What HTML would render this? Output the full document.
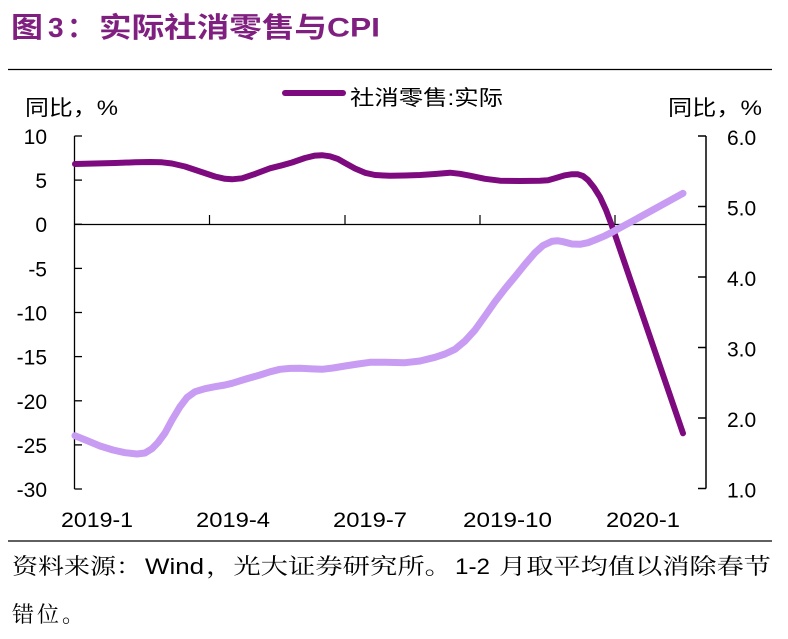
<!DOCTYPE html>
<html>
<head>
<meta charset="utf-8">
<style>
  html,body{margin:0;padding:0;background:#fff;}
  svg{display:block;}
</style>
</head>
<body>
<svg width="788" height="639" viewBox="0 0 788 639" xmlns="http://www.w3.org/2000/svg">
  <rect width="788" height="639" fill="#fff"/>

  <!-- Title -->
  <g fill="#7F1F7F" font-weight="bold">
    <text x="11" y="37" font-family="'Liberation Sans','Noto Sans CJK SC',sans-serif" font-size="28" textLength="32" lengthAdjust="spacingAndGlyphs">图</text>
    <text x="48" y="37" font-family="'Liberation Sans',sans-serif" font-size="28">3</text>
    <text x="67" y="37" font-family="'Noto Sans CJK SC',sans-serif" font-size="28">：</text>
    <text x="99" y="37" font-family="'Liberation Sans','Noto Sans CJK SC',sans-serif" font-size="28" textLength="228" lengthAdjust="spacingAndGlyphs">实际社消零售与</text>
    <text x="327" y="36.5" font-family="'Liberation Sans',sans-serif" font-size="27" textLength="53" lengthAdjust="spacingAndGlyphs">CPI</text>
  </g>

  <!-- top rule -->
  <line x1="8" y1="69.5" x2="772" y2="69.5" stroke="#000" stroke-width="1.2"/>

  <!-- legend -->
  <line x1="285" y1="93" x2="343" y2="93" stroke="#7D0A7E" stroke-width="6" stroke-linecap="round"/>
  <text x="350" y="105" font-family="'Liberation Sans','Noto Sans CJK SC',sans-serif" font-size="21" textLength="153" lengthAdjust="spacingAndGlyphs" fill="#000">社消零售:实际</text>

  <!-- axis unit labels -->
  <text x="25" y="115" font-family="'Liberation Sans','Noto Sans CJK SC',sans-serif" font-size="21" textLength="93" lengthAdjust="spacingAndGlyphs" fill="#000">同比，%</text>
  <text x="668" y="115" font-family="'Liberation Sans','Noto Sans CJK SC',sans-serif" font-size="21" textLength="94" lengthAdjust="spacingAndGlyphs" fill="#000">同比，%</text>

  <!-- left axis -->
  <g stroke="#000" stroke-width="1.3">
    <line x1="74.5" y1="136" x2="74.5" y2="489"/>
    <line x1="74.5" y1="136" x2="82" y2="136"/>
    <line x1="74.5" y1="180.1" x2="82" y2="180.1"/>
    <line x1="74.5" y1="224.25" x2="82" y2="224.25"/>
    <line x1="74.5" y1="268.4" x2="82" y2="268.4"/>
    <line x1="74.5" y1="312.5" x2="82" y2="312.5"/>
    <line x1="74.5" y1="356.6" x2="82" y2="356.6"/>
    <line x1="74.5" y1="400.8" x2="82" y2="400.8"/>
    <line x1="74.5" y1="444.9" x2="82" y2="444.9"/>
    <line x1="74.5" y1="489" x2="82" y2="489"/>
  </g>
  <g font-family="'Liberation Sans',sans-serif" font-size="21" fill="#000" text-anchor="end">
    <text x="47" y="144">10</text>
    <text x="47" y="188">5</text>
    <text x="47" y="232">0</text>
    <text x="47" y="276.5">-5</text>
    <text x="47" y="320.5">-10</text>
    <text x="47" y="364.5">-15</text>
    <text x="47" y="409">-20</text>
    <text x="47" y="453">-25</text>
    <text x="47" y="497">-30</text>
  </g>

  <!-- right axis -->
  <g stroke="#000" stroke-width="1.5">
    <line x1="706" y1="136" x2="706" y2="488.5"/>
    <line x1="698" y1="136" x2="706" y2="136"/>
    <line x1="698" y1="206.5" x2="706" y2="206.5"/>
    <line x1="698" y1="277" x2="706" y2="277"/>
    <line x1="698" y1="347.5" x2="706" y2="347.5"/>
    <line x1="698" y1="418" x2="706" y2="418"/>
    <line x1="698" y1="488.5" x2="706" y2="488.5"/>
  </g>
  <g font-family="'Liberation Sans',sans-serif" font-size="21" fill="#000">
    <text x="727" y="145">6.0</text>
    <text x="727" y="215.5">5.0</text>
    <text x="727" y="286">4.0</text>
    <text x="727" y="356.5">3.0</text>
    <text x="727" y="427">2.0</text>
    <text x="727" y="497.5">1.0</text>
  </g>

  <!-- zero line & x ticks -->
  <g stroke="#000" stroke-width="1.2">
    <line x1="74.5" y1="224.5" x2="706" y2="224.5"/>
    <line x1="209.5" y1="215" x2="209.5" y2="224.5"/>
    <line x1="345" y1="215" x2="345" y2="224.5"/>
    <line x1="480" y1="215" x2="480" y2="224.5"/>
    <line x1="615" y1="215" x2="615" y2="224.5"/>
  </g>

  <!-- x labels -->
  <g font-family="'Liberation Sans',sans-serif" font-size="21" fill="#000">
    <text x="61" y="527" textLength="72" lengthAdjust="spacingAndGlyphs">2019-1</text>
    <text x="196" y="527" textLength="74" lengthAdjust="spacingAndGlyphs">2019-4</text>
    <text x="333" y="527" textLength="74" lengthAdjust="spacingAndGlyphs">2019-7</text>
    <text x="463" y="527" textLength="89" lengthAdjust="spacingAndGlyphs">2019-10</text>
    <text x="606" y="527" textLength="74" lengthAdjust="spacingAndGlyphs">2020-1</text>
  </g>

  <!-- series: dark purple (社消零售:实际) -->
  <polyline fill="none" stroke="#7D0A7E" stroke-width="6" stroke-linejoin="round" stroke-linecap="round"
    points="75,164 95,163.5 115,163 135,162.3 150,162 162,162.3 172,163.5 185,166.5 200,171.5 215,176.5 225,178.8 232,179.3 242,178.3 255,174 270,168.3 282,165.3 292,162.5 305,158 315,155.6 322,155.2 330,156.3 338,159 345,163 355,168.5 365,172.8 375,175 390,175.8 405,175.5 420,175 435,174 450,172.7 460,173.8 470,175.7 485,178.8 500,180.7 520,181 540,180.7 548,180.3 555,178.3 565,175.3 572,174.2 578,174.3 583,176 588,180 594,187.5 600,197 606,210 612,226 683,433.3"/>

  <!-- series: light lavender (CPI) -->
  <polyline fill="none" stroke="#C79CF2" stroke-width="7" stroke-linejoin="round" stroke-linecap="round"
    points="75,435.7 88,441 100,446 113,450 125,452.7 137,454 145,453 152,448.7 158,442.5 165,433 172,420 180,406.7 187,397.5 195,391.7 205,388.7 215,386.7 225,385 232,383.3 246,379 260,375 270,371.8 280,369.3 290,368.4 300,368.3 312,368.9 322,369.3 333,368 345,366 358,364 370,362.3 385,362.3 405,362.7 420,361 435,357.3 445,354 455,349.3 465,341 475,330 485,316 495,301.7 505,288.7 515,276.7 525,264.3 535,252.7 543,245.5 552,241.3 558,240.8 563,241.7 572,244 580,244.3 588,242.7 595,240 605,235.8 613,231.7 640,217 683,193.3"/>

  <!-- bottom rule -->
  <line x1="8" y1="541" x2="772" y2="541" stroke="#000" stroke-width="1.2"/>

  <!-- footer -->
  <g fill="#000" font-size="22">
    <text x="12" y="574" font-family="'Noto Serif CJK SC',serif" textLength="130" lengthAdjust="spacingAndGlyphs">资料来源：</text>
    <text x="145" y="574" font-family="'Liberation Sans',sans-serif" textLength="59" lengthAdjust="spacingAndGlyphs">Wind</text>
    <text x="206" y="574" font-family="'Noto Serif CJK SC',serif" textLength="246" lengthAdjust="spacingAndGlyphs">，光大证券研究所。</text>
    <text x="455" y="574" font-family="'Liberation Sans',sans-serif" textLength="35" lengthAdjust="spacingAndGlyphs">1-2</text>
    <text x="499" y="574" font-family="'Noto Serif CJK SC',serif" textLength="272" lengthAdjust="spacingAndGlyphs">月取平均值以消除春节</text>
    <text x="12" y="622" font-family="'Noto Serif CJK SC',serif" letter-spacing="3">错位。</text>
  </g>
</svg>
</body>
</html>
